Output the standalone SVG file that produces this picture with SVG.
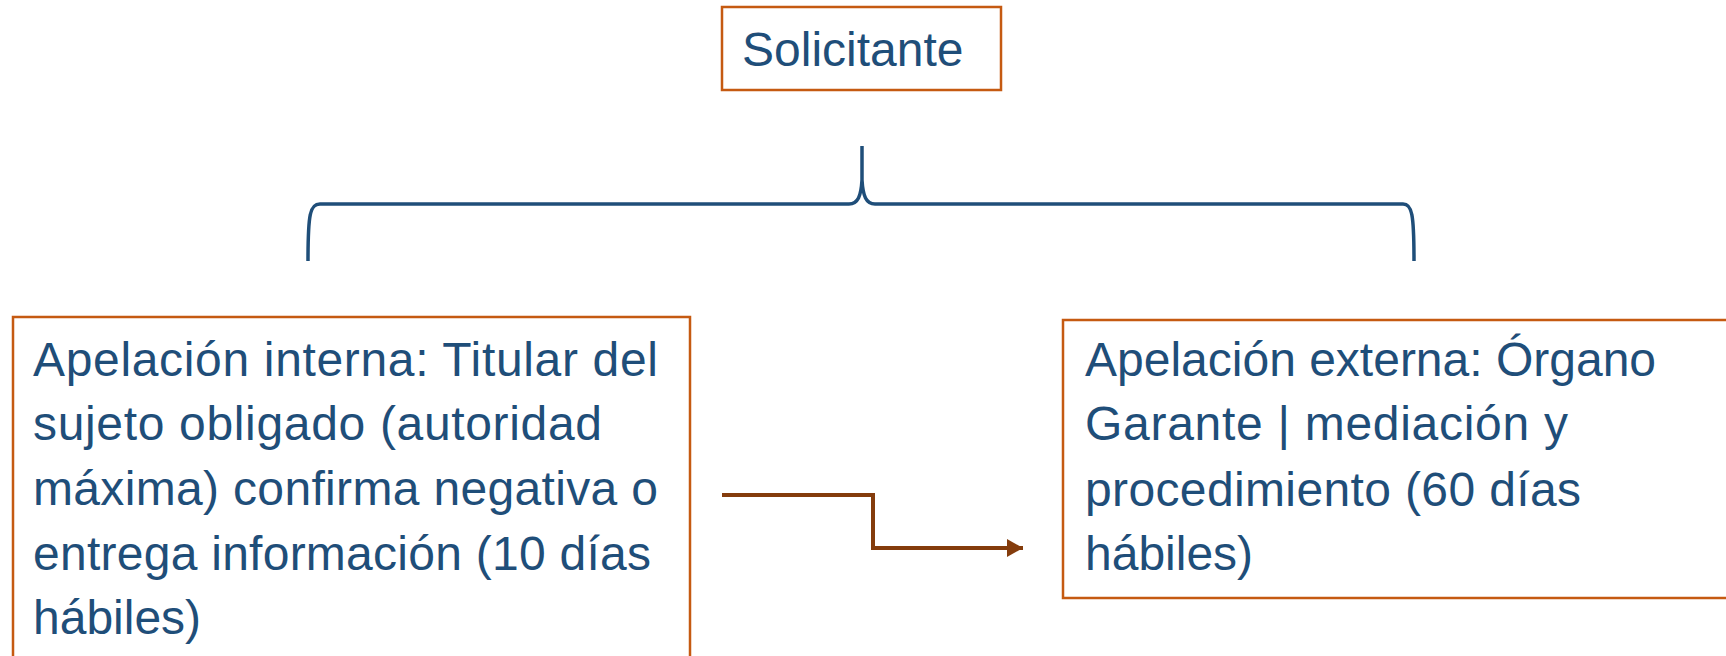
<svg xmlns="http://www.w3.org/2000/svg" width="1726" height="656" viewBox="0 0 1726 656">
<defs>
<style>
.box{fill:#fff;stroke:#c55a11;stroke-width:2.5}
.t{font-family:"Liberation Sans",Arial,sans-serif;font-size:48px;fill:#1f4e79}
.brace{fill:none;stroke:#1f4e79;stroke-width:3.5}
.conn{fill:none;stroke:#843c0c;stroke-width:4}
</style>
<marker id="ah" viewBox="0 0 16 18" refX="16" refY="9" markerWidth="4" markerHeight="4.5" markerUnits="strokeWidth" orient="auto">
<path d="M0,0 L16,9 L0,18 z" fill="#843c0c"/>
</marker>
</defs>
<rect width="1726" height="656" fill="#fff"/>
<g id="solicitante">
<rect class="box" x="722" y="7" width="279" height="83"/>
<text class="t" x="742" y="66">Solicitante</text>
</g>
<g id="brace">
<path class="brace" d="M308,261 C308,214 310,204 320,204 L849,204 C858,204 861,196 862,180 L862,146 M862,180 C863,196 866,204 875,204 L1403,204 C1412,204 1414,214 1414,261"/>
</g>
<g id="interna">
<rect class="box" x="13" y="317" width="677" height="350"/>
<text class="t" x="33" y="376" textLength="625">Apelación interna: Titular del</text>
<text class="t" x="33" y="440" textLength="569">sujeto obligado (autoridad</text>
<text class="t" x="33" y="505" textLength="625">máxima) confirma negativa o</text>
<text class="t" x="33" y="570" textLength="618">entrega información (10 días</text>
<text class="t" x="33" y="634">hábiles)</text>
</g>
<g id="externa">
<rect class="box" x="1063" y="320" width="680" height="278"/>
<text class="t" x="1085" y="376">Apelación externa: Órgano</text>
<text class="t" x="1085" y="440" textLength="483">Garante | mediación y</text>
<text class="t" x="1085" y="506" textLength="496">procedimiento (60 días</text>
<text class="t" x="1085" y="570">hábiles)</text>
</g>
<g id="connectors">
<path class="conn" d="M722,495 L873,495 L873,548 L1023,548" marker-end="url(#ah)"/>
</g>
</svg>
